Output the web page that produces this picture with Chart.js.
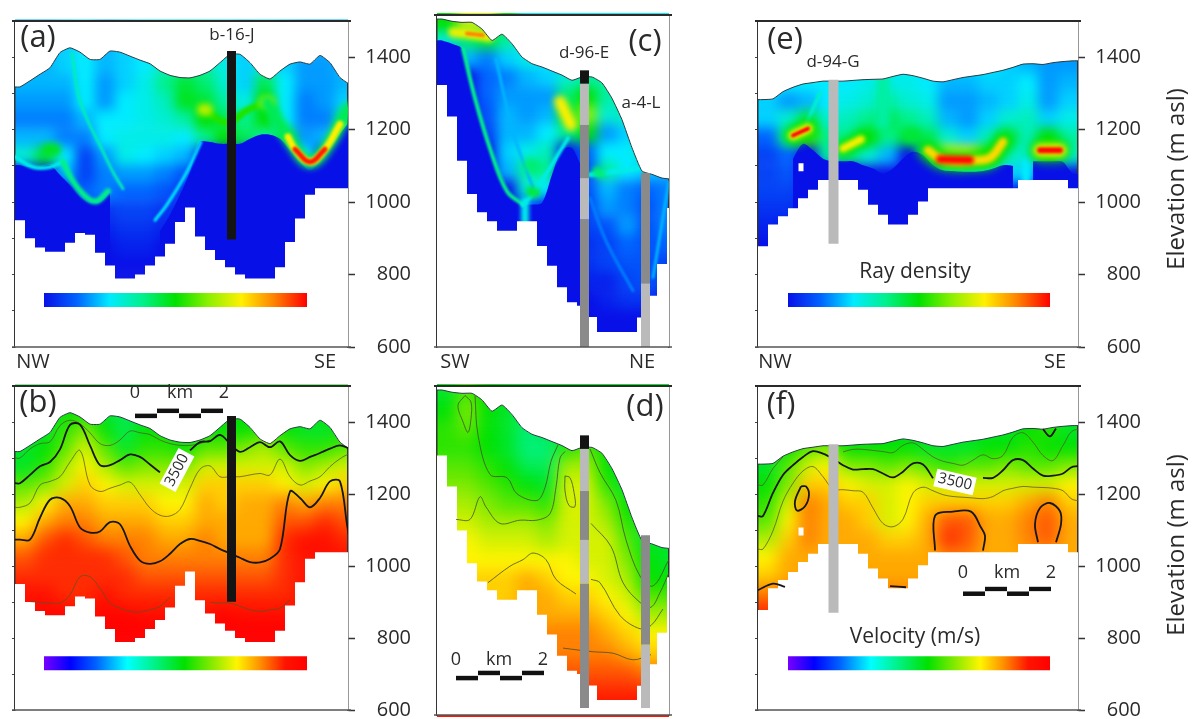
<!DOCTYPE html>
<html>
<head>
<meta charset="utf-8">
<style>
html,body{margin:0;padding:0;background:#fff;width:1193px;height:719px;overflow:hidden}
.clip{position:absolute;overflow:hidden;background:#fff}
canvas{position:absolute}
</style>
<script src="https://cdn.jsdelivr.net/npm/chart.js@4"></script>
</head>
<body>
<script>
// colour scales
var densityStops = [0, 50, 100, 150, 200, 250, 300, 350, 400];
var densityRgb = [[8,16,232],[0,100,255],[0,235,255],[0,240,140],[0,225,0],[140,240,0],[255,240,0],[255,130,0],[255,0,0]];
var velocityStops = [1500, 1800, 2100, 2450, 2800, 3100, 3450, 3700, 3950, 4250, 4500];
var velocityRgb = [[120,0,255],[0,0,255],[0,100,255],[0,255,255],[0,240,120],[0,225,0],[150,235,0],[255,245,0],[255,150,0],[255,20,0],[255,0,0]];
var densityTicks = [0, 100, 200, 300, 400];
var velocityTicks = [1500, 2000, 2500, 3000, 3500, 4000, 4500];
var velocityTickLabels = [1500, 2500, 3500, 4500];

// surface, mesh floor and fully blue zone, elevation per 10 px column
var topoAB = [1318,1335,1353,1371,1413,1426,1414,1394,1394,1417,1414,1403,1392,1382,1362,1350,1344,1343,1350,1362,1385,1408,1408,1385,1353,1340,1362,1381,1387,1381,1405,1385,1344,1325];
var floorAB = [950,900,875,863,863,888,915,910,860,825,789,789,800,825,850,885,945,985,905,868,840,820,800,789,789,789,820,890,955,1020,1038,1038,1038,1038];
var deepA = [1102,1096,1096,1102,1075,1047,1015,997,999,1025,null,null,null,null,920,965,1020,1084,1166,1166,1161,1161,1161,1175,1186,1186,1175,1143,1111,1088,1111,1148,1189,1221];
var topoCD = [1339,1333,1330,1330,1312,1281,1298,1272,1236,1218,1209,1198,1187,1173,1182,1182,1166,1124,1066,990,927,918,908,905];
var floorCD = [1160,1075,955,865,815,791,765,765,791,791,724,670,612,571,562,531,491,491,491,491,530,589,675,827];
var deepC = [1281,1272,1258,1150,1060,962,908,859,836,836,841,917,985,989,935,null,null,null,null,null,null,null,null,null];
var topoEF = [1283,1285,1305,1317,1326,1330,1334,1334,1334,1336,1338,1339,1340,1347,1353,1349,1342,1334,1332,1338,1344,1348,1352,1358,1364,1372,1381,1382,1380,1385,1388,1390];
var floorEF = [878,938,961,983,1011,1034,1061,1061,1061,1061,1034,993,965,938,938,965,1002,1038,1038,1038,1038,1038,1038,1038,1038,1038,1061,1061,1061,1061,1061,1038];
var deepE = [null,null,null,1120,1161,1143,1120,1113,1113,1113,1102,1093,1079,1093,1120,1139,1130,1102,1088,1086,1084,1084,1086,1093,1102,1100,null,1113,1113,1113,1111,1079];

// ray density /10, rows every 50 m going down, columns every 20 px
var gridA = [
[8,8,9,10,8,9,10,11,12,12,10,9,10,9,8,8,8],
[8,8,9,10,8,9,10,13,14,14,11,9,12,9,7,7,8],
[8,8,8,10,7,9,11,15,18,16,12,9,17,10,7,7,8],
[7,7,7,10,7,10,11,13,19,18,14,11,20,10,6,7,9],
[6,6,6,8,10,10,11,12,14,20,17,15,20,10,6,6,14],
[8,8,6,6,10,11,11,11,10,15,20,17,14,18,7,8,25],
[12,18,10,3,7,11,10,9,8,0,0,0,0,0,10,0,0],
[0,0,8,3,6,7,7,6,4,0,0,0,0,0,0,0,0],
[0,0,0,5,6,5,5,4,2,0,0,0,0,0,0,0,0],
[0,0,0,0,2,3,3,2,1,0,0,0,0,0,0,0,0],
[0,0,0,0,1,2,2,1,0,0,0,0,0,0,0,0,0],
[0,0,0,0,0,1,1,0,0,0,0,0,0,0,0,0,0],
[0,0,0,0,0,0,0,0,0,0,0,0,0,0,0,0,0],
[0,0,0,0,0,0,0,0,0,0,0,0,0,0,0,0,0]];
var gridC = [
[20,28,28,20,10,10,10,10,10,10,10,10],
[12,16,18,14,10,10,10,10,10,10,10,10],
[0,8,6,9,11,10,9,9,9,9,9,9],
[0,0,5,6,8,9,12,14,14,10,10,10],
[0,0,5,7,7,7,16,20,14,13,10,10],
[0,0,4,8,7,8,18,25,12,13,10,10],
[0,0,3,8,8,10,15,20,7,9,14,10],
[0,0,0,9,11,13,0,5,10,10,14,10],
[0,0,0,8,14,15,0,4,14,10,9,8],
[0,0,0,0,12,10,0,4,8,6,5,6],
[0,0,0,0,5,1,1,3,7,6,4,6],
[0,0,0,0,0,0,2,3,4,7,4,6],
[0,0,0,0,0,0,2,2,3,5,4,5],
[0,0,0,0,0,0,1,2,3,4,4,3],
[0,0,0,0,0,0,0,1,1,3,4,3],
[0,0,0,0,0,0,0,0,1,2,2,0],
[0,0,0,0,0,0,0,0,0,0,0,0],
[0,0,0,0,0,0,0,0,0,0,0,0]];
var gridE = [
[10,10,10,10,10,10,10,10,10,10,10,10,9,8,7,7],
[10,10,10,10,10,11,11,11,10,8,8,9,9,10,7,8],
[9,7,8,10,11,12,14,12,11,7,7,8,9,11,7,9],
[9,12,17,12,13,15,17,15,13,8,7,9,12,13,9,11],
[5,14,22,15,15,20,15,18,17,12,9,13,18,13,20,14],
[3,5,0,14,16,12,8,0,15,30,30,22,13,12,20,12],
[3,4,0,0,0,0,0,0,0,12,12,11,9,9,0,0],
[3,3,1,0,0,0,0,0,0,0,0,0,0,0,0,0],
[2,2,0,0,0,0,0,0,0,0,0,0,0,0,0,0],
[1,0,0,0,0,0,0,0,0,0,0,0,0,0,0,0],
[0,0,0,0,0,0,0,0,0,0,0,0,0,0,0,0],
[0,0,0,0,0,0,0,0,0,0,0,0,0,0,0,0]];

// velocity /100 m/s, same layout
var gridB = [
[30,30,31,31,30,29,30,30,30,30,31,31,31,31,31,31,31],
[30,30,32,34,31,29,31,31,30,31,31,31,32,31,30,30,31],
[30,31,33,36,33,30,32,32,31,33,33,34,35,33,32,32,33],
[30,32,35,37,35,33,34,34,34,36,36,36,36,36,34,35,36],
[33,34,36,38,37,36,36,36,36,38,38,38,38,37,36,37,38],
[35,37,39,39,38,38,38,37,37,39,38,39,39,40,39,40,40],
[37,39,40,40,39,39,39,38,38,39,39,39,39,41,41,42,41],
[39,41,42,41,40,40,40,39,39,40,39,39,39,42,43,43,42],
[41,42,42,42,42,41,40,40,40,40,40,40,40,42,43,43,43],
[42,42,42,42,42,42,41,41,41,41,41,41,41,42,43,43,43],
[43,43,42,42,43,42,42,42,42,42,42,42,42,42,43,43,43],
[43,44,44,43,44,44,43,43,43,43,44,43,43,43,43,43,43],
[45,45,45,45,45,45,45,45,45,45,45,45,45,45,45,45,45],
[45,45,45,45,45,45,45,45,45,45,45,45,45,45,45,45,45]];
var gridD = [
[30,33,31,30,30,30,30,30,30,30,30,30],
[31,34,31,30,29,30,30,30,30,30,30,30],
[32,33,31,30,28,29,30,30,30,30,30,30],
[32,32,31,30,28,28,32,33,31,30,30,30],
[33,33,32,31,29,29,35,35,31,30,30,30],
[34,34,33,32,31,30,36,36,32,30,30,30],
[35,35,34,33,33,32,36,36,34,31,30,30],
[36,36,35,35,35,34,36,36,35,32,30,30],
[36,37,36,36,36,35,36,36,36,33,30,30],
[37,37,37,37,37,37,37,36,36,34,31,30],
[37,38,38,38,39,38,37,37,36,35,31,31],
[38,38,38,38,39,39,38,38,37,36,33,33],
[38,38,38,39,39,39,39,39,38,37,35,35],
[38,39,39,39,40,40,40,40,39,38,37,37],
[39,39,39,40,40,40,40,40,40,39,38,38],
[40,40,40,41,41,41,41,41,41,41,40,40],
[42,42,42,42,42,42,42,42,42,42,42,42],
[43,43,43,43,43,43,43,43,43,43,43,43]];
var gridF = [
[30,30,30,30,30,30,30,30,30,30,30,30,30,31,32,30],
[30,31,33,34,31,31,31,31,30,30,30,31,31,32,31,31],
[30,33,36,37,34,34,33,34,33,32,33,33,34,33,33,34],
[31,34,38,38,37,36,36,37,36,36,36,36,36,36,36,37],
[32,36,40,39,38,38,36,37,38,38,38,38,38,39,40,38],
[33,37,40,39,39,38,36,37,39,41,41,39,39,40,41,39],
[35,38,40,39,39,39,38,38,39,42,41,39,39,40,41,39],
[37,39,39,39,39,39,39,39,39,40,40,39,39,39,39,39],
[38,39,39,39,39,39,39,39,39,39,39,39,39,39,39,39],
[40,40,40,40,40,40,40,40,40,40,40,40,40,40,40,40],
[42,42,42,42,42,42,42,42,42,42,42,42,42,42,42,42],
[42,42,42,42,42,42,42,42,42,42,42,42,42,42,42,42]];

// dense ray paths, [column, elevation]
var rayA1 = [[5.7,1410],[6.3,1300],[7.2,1230],[8.5,1157],[9.8,1083],[10.8,1037]];
var rayA2 = [[4.8,1112],[5.8,1057],[7.2,1012],[8.2,1003],[9.3,1030]];
var rayA3 = [[25.2,1276],[27.5,1171],[29.5,1111],[31.5,1166],[33.3,1258]];
var rayA4 = [[27.3,1180],[28,1146],[29.5,1111],[31,1146],[32.5,1215]];
var rayA5 = [[28,1146],[29.5,1111],[31,1146]];
var rayA6 = [[18.8,1257],[21.2,1220],[23.2,1253],[25.2,1276]];
var rayA7 = [[18.8,1255],[19.2,1255]];
var rayA8 = [[25,1276],[25.4,1276]];
var rayA9 = [[3.3,1145],[4,1145]];
var rayA10 = [[18.6,1166],[17.2,1084],[15.2,993],[14,950]];
var rayA11 = [[0,1125],[1.8,1097],[3.5,1097],[4.8,1112]];
var rayC1 = [[2.6,1258],[3.9,1114],[5.3,988],[7,872],[8.6,836]];
var rayC2 = [[1.6,1303],[3,1300],[5.2,1290]];
var rayC3 = [[3,1300],[4.6,1295]];
var rayC4 = [[12.3,1115],[13.4,1052]];
var rayC5 = [[8.6,836],[9.8,872],[13.1,1016]];
var rayC6 = [[9.4,872],[9.8,868]];
var rayC7 = [[8.8,845],[8.8,790]];
var rayC8 = [[5.9,1231],[7.6,1034],[9.6,881]];
var rayC9 = [[9.3,944],[9.7,940]];
var rayC10 = [[16,925],[16.4,920]];
var rayC11 = [[15.3,854],[16.9,738],[19.6,603]];
var rayC12 = [[23.2,899],[21.6,639]];
var rayC13 = [[15.3,917],[20.3,935]];
var rayE1 = [[3.5,1184],[5,1203]];
var rayE2 = [[8.5,1148],[10.3,1173]];
var rayE3 = [[17,1143],[18.2,1120],[19.8,1113],[21.5,1115],[23.2,1122],[24.5,1166]];
var rayE4 = [[18.2,1118],[21.2,1116]];
var rayE5 = [[28.2,1143],[30.2,1143]];
var rayE6 = [[12.5,1340],[12.5,1220]];
var rayE7 = [[15.2,1184],[15.6,1184]];
var rayE8 = [[26.8,1111],[26.8,1061]];
var rayE9 = [[6.2,1300],[4.7,1208]];

// velocity contours, per column or [column, elevation]
var lineB3250 = [1300,1325,1340,1345,1390,1405,1395,1370,1340,1335,1350,1375,1370,1365,1350,1340,1335,1335,1340,1350,null,null,null,null,null,null,null,null,null,null,null,null,null,null];
var lineB3500 = [1230,1253,1277,1289,1324,1392,1393,1335,1280,1280,1294,1310,1303,1282,1260,null,null,1321,1344,1347,1364,1340,1317,1330,1344,1330,1346,1308,1292,1303,1314,1326,1335,1326];
var lineB3750 = [1163,1175,1225,1235,1248,1289,1321,1225,1207,1216,1225,1233,1198,1161,1141,1139,1157,1216,1269,1278,1248,1248,1248,1253,1257,1253,1297,1248,1225,1236,1248,1276,1298,1312];
var lineB4000 = [1073,1073,1134,1184,1189,1166,1107,1093,1096,1122,1116,1056,1015,1006,1013,1034,1061,1075,1070,1061,1047,1035,1023,1011,1010,1020,1047,1207,1189,1163,1189,1235,1235,1075];
var lineB4250 = [null,901,899,897,897,920,970,970,938,897,883,874,872,878,888,913,null,null,null,899,897,897,888,878,874,878,883,906,null,null,null,null,null,null];
var lineD1 = [[3.8,1324],[4.1,1216],[5.3,1108],[7,1099],[8,1055],[10,1037],[10.8,1072],[11.4,1144],[12.1,1189]];
var lineD2 = [[15.3,1178],[16.3,1113],[17.9,1037],[18.9,929],[20.3,830],[21.6,803],[23.2,875]];
var lineD3 = [[1.9,985],[3.3,985],[4.3,1047],[4.9,1019],[6.3,974],[8.3,983],[10,983],[11.3,1001],[11.9,1073],[12.3,1153],[12.8,1171]];
var lineD4 = [[15.4,974],[17.4,911],[18.6,812],[20.3,758],[21.4,745],[22.3,785],[23.2,839]];
var lineD5 = [[5.1,812],[7.3,857],[8.6,875],[9.6,893],[10.9,875],[11.9,821],[13.9,781]];
var lineD6 = [[15.4,821],[16.3,812],[18.3,722],[20.3,686],[21.4,695],[22.6,740]];
var lineD7 = [[12.6,633],[15.6,623],[17.6,619],[19.6,601],[21.4,615]];
var lineD8 = [[2.8,1324],[2.1,1297],[2.6,1252],[3.1,1223],[3.4,1261],[3.4,1306],[2.8,1324]];
var lineD9 = [[12.8,1104],[12.8,1063],[13.2,1023],[13.8,1020],[13.7,1059],[13.3,1099],[12.8,1104]];
var lineF3250 = [1225,1271,1303,null,null,null,null,null,1317,1324,1324,1321,1318,1315,1335,1342,1324,1303,1291,1285,1280,1294,1309,1298,1307,1358,1370,1344,1307,1293,1335,1376];
var lineF3500 = [1139,1203,1253,1280,1303,1319,1312,1298,1280,1268,1269,1269,1257,1246,1262,1285,1282,1244,null,null,null,null,1245,1245,1266,1294,1294,1271,1251,1251,1257,1276];
var lineF3750 = [1047,1098,1180,1230,1264,1276,1248,1213,1212,1209,1205,1161,1118,1109,1130,1203,1219,1209,1198,1193,1191,1189,1187,1193,1209,1216,1221,1219,1218,1216,1209,1184];
var loopF1 = [[4.3,1221],[3.7,1180],[3.9,1154],[4.7,1166],[5.1,1198],[4.8,1221],[4.3,1221]];
var loopF2 = [[17.7,1043],[17.7,1139],[19.5,1151],[21.3,1151],[22.3,1107],[22.7,1084],[22.5,1043]];
var loopF3 = [[28,1066],[27.7,1116],[28.2,1161],[29.2,1175],[30.2,1152],[30.3,1116],[29.8,1066]];
var loopF4 = [[0,933],[1.5,951],[2.7,942]];
var loopF5 = [[13.2,944],[14.8,941]];
var loopF6 = [[28.5,1380],[29.2,1360],[29.8,1382]];
var holeEF = [[4.3,1107],[4.3,1085]];

// boreholes: [from, to, tone]
var wellTones = ['#141414', '#bababa', '#8a8a8a'];
var wellA = [[897,1417,0]];
var wellB = [[901,1417,0]];
var wellC1 = [[450,796,2],[796,908,1],[908,1052,2],[1052,1164,1],[1164,1200,0]];
var wellC2 = [[450,623,1],[623,922,2]];
var wellD1 = [[469,810,2],[810,929,1],[929,1063,2],[1063,1178,1],[1178,1215,0]];
var wellD2 = [[469,643,1],[643,942,2]];
var wellE = [[885,1338,1]];
var wellF = [[870,1338,1]];
var scaleKm = [0, 0.5, 1, 1.5, 2];

var panels = [
  {L:15, R:348, T:19, B:347, min:600, max:1500, kind:'d', grid:gridA, gridTop:1450, topo:topoAB, floor:floorAB, deep:deepA, bar:[44,307], minor:false,
   rays:[[rayA11,11,4],[rayA1,13,3],[rayA10,10,3],[rayA2,15,6],[rayA9,19,12],[rayA6,21,7],[rayA7,27,12],[rayA8,27,12],[rayA3,17,13],[rayA4,30,7],[rayA5,39,5]],
   wells:[[21.65,9,wellA]],
   text:[['(a)',38,38,31],['b-16-J',232,35,17]]},
  {L:15, R:348, T:384, B:712, min:600, max:1500, kind:'v', grid:gridB, gridTop:1450, topo:topoAB, floor:floorAB, bar:[44,307], minor:false,
   lines:[[lineB3250,0],[lineB3750,0],[lineB4250,0],[lineB3500,1],[lineB4000,1]], wells:[[21.65,9,wellB]], scale:[12,1431,1417],
   text:[['(b)',38,403,31],['0',135,393,18],['km',180,393,18],['2',224,393,18],['3500',177,470,15,-62,1]]},
  {L:437, R:669, T:13, B:347, min:450, max:1350, kind:'d', grid:gridC, gridTop:1350, topo:topoCD, floor:floorCD, deep:deepC, minor:true,
   rays:[[rayC8,8,3],[rayC11,6,3],[rayC12,8,3],[rayC13,11,5],[rayC1,15,4],[rayC5,11,4],[rayC7,11,8],[rayC6,18,10],[rayC9,16,14],[rayC10,16,10],[rayC2,29,10],[rayC3,35,4],[rayC4,30,12]],
   wells:[[14.75,9,wellC1],[20.85,9,wellC2]],
   text:[['(c)',645,42,31],['d-96-E',584,53,17],['a-4-L',641,103,17]]},
  {L:437, R:669, T:384, B:717, min:450, max:1350, kind:'v', grid:gridD, gridTop:1350, topo:topoCD, floor:floorCD, minor:true,
   pairs:[lineD1,lineD2,lineD3,lineD4,lineD5,lineD6,lineD7,lineD8,lineD9], wells:[[14.75,9,wellD1],[20.85,9,wellD2]], scale:[1.9,565,551],
   text:[['(d)',645,407,31],['0',456,660,18],['km',499,660,18],['2',543,660,18]]},
  {L:758, R:1078, T:19, B:347, min:600, max:1500, kind:'d', grid:gridE, gridTop:1400, topo:topoEF, floor:floorEF, deep:deepE, bar:[788,1050], minor:false,
   rays:[[rayE9,12,4],[rayE6,14,14],[rayE7,18,14],[rayE8,10,8],[rayE1,20,20],[rayE1,30,10],[rayE1,40,4],[rayE2,20,16],[rayE2,30,8],[rayE3,20,20],[rayE3,31,9],[rayE4,40,8],[rayE5,20,22],[rayE5,30,13],[rayE5,40,6]],
   wells:[[7.55,10,wellE]], hole:holeEF,
   text:[['(e)',785,40,31],['d-94-G',833,62,17],['Ray density',915,272,21],['Elevation (m asl)',1177,179,24,-90]]},
  {L:758, R:1078, T:384, B:712, min:600, max:1500, kind:'v', grid:gridF, gridTop:1400, topo:topoEF, floor:floorEF, bar:[788,1050], minor:false,
   lines:[[lineF3250,0],[lineF3750,0],[lineF3500,1]], pairs:[], loops:[loopF1,loopF2,loopF3,loopF4,loopF5,loopF6], wells:[[7.55,10,wellF]], hole:holeEF, scale:[20.5,936,923],
   text:[['(f)',781,405,31],['0',963,573,18],['km',1007,573,18],['2',1051,573,18],['3500',955,482,15,13,1],['Velocity (m/s)',915,637,21],['Elevation (m asl)',1177,545,24,-90]]}
];
var sideLabels = [['NW',33,362],['SE',325,362],['SW',455,362],['NE',642,362],['NW',775,362],['SE',1055,362]];

var fontName = '"Open Sans", sans-serif';

function colourAt(v, stops, rgb) {
  if (v <= stops[0]) return 'rgb(' + rgb[0].join(',') + ')';
  for (var i = 1; i < stops.length; i++) {
    if (v <= stops[i]) {
      var t = (v - stops[i-1]) / (stops[i] - stops[i-1]);
      var c = rgb[i].map(function (x, k) { return Math.round(rgb[i-1][k] + (x - rgb[i-1][k]) * t); });
      return 'rgb(' + c.join(',') + ')';
    }
  }
  return 'rgb(' + rgb[rgb.length-1].join(',') + ')';
}
function densColour(v) { return colourAt(v * 10, densityStops, densityRgb); }
function velColour(v) { return colourAt(v * 100, velocityStops, velocityRgb); }

// column array -> points, edges held out to the frame
function colPts(arr, n) {
  var pts = arr.map(function (y, i) { return {x: i + 0.5, y: y}; });
  pts.unshift({x: 0, y: arr[0]});
  pts.push({x: n + 1, y: arr[arr.length-1]});
  return pts;
}
function pairPts(arr) { return arr.map(function (p) { return {x: p[0], y: p[1]}; }); }

function drawHeat(p) {
  var w = p.R - p.L, h = p.B - p.T, pxm = h / (p.max - p.min), rowH = 50 * pxm;
  var box = document.createElement('div');
  box.className = 'clip';
  box.style.cssText = 'left:' + p.L + 'px;top:' + p.T + 'px;width:' + w + 'px;height:' + h + 'px';
  document.body.appendChild(box);
  var rows = [p.grid[0]].concat(p.grid, [p.grid[p.grid.length-1]]).map(function (r) {
    return [r[0]].concat(r, [r[r.length-1]]);
  });
  var cv = document.createElement('canvas');
  cv.width = rows[0].length * 20;
  cv.height = Math.round(rows.length * rowH);
  cv.style.left = '-20px';
  cv.style.top = Math.round((p.max - p.gridTop) * pxm - rowH) + 'px';
  cv.style.filter = p.kind == 'd' ? 'blur(6px)' : 'blur(8px)';
  box.appendChild(cv);
  var top = p.gridTop + 50;
  var paint = p.kind == 'd' ? densColour : velColour;
  new Chart(cv, {
    type: 'bar',
    data: {
      labels: rows[0].map(function (_, i) { return i; }),
      datasets: rows.map(function (r, j) {
        var hi = top - 50 * j;
        return {
          data: r.map(function () { return [hi - 50, hi]; }),
          backgroundColor: r.map(paint), borderColor: r.map(paint), borderWidth: 1,
          grouped: false, barPercentage: 1, categoryPercentage: 1
        };
      })
    },
    options: {
      responsive: false, animation: false, events: [],
      layout: {padding: 0},
      plugins: {legend: {display: false}, tooltip: {enabled: false}},
      scales: {
        x: {display: false},
        y: {display: false, min: top - 50 * rows.length, max: top}
      }
    }
  });
}

function drawOverlay(p, idx) {
  var w = p.R - p.L, h = p.B - p.T, n = w / 10;
  var padL = 6, widthR = 63, extraR = idx >= 4 ? 50 : 10, padT = 14, padB = idx % 2 == 0 ? 30 : 14;
  var cv = document.createElement('canvas');
  cv.width = padL + w + widthR + extraR;
  cv.height = padT + h + padB;
  var offX = p.L - padL, offY = p.T - padT;
  cv.style.left = offX + 'px';
  cv.style.top = offY + 'px';
  document.body.appendChild(cv);

  var sets = [];
  function add(ds) { ds.xAxisID = ds.xAxisID || 'x'; ds.yAxisID = 'y'; sets.push(ds); }

  if (p.deep) add({data: colPts(p.deep, n), borderWidth: 0, fill: 'start', backgroundColor: densColour(0), tension: 0.3});
  (p.rays || []).forEach(function (r) {
    add({data: pairPts(r[0]), borderColor: densColour(r[1]), borderWidth: r[2], tension: 0.4, borderCapStyle: 'round', blurPx: Math.max(1, r[2] / 4)});
  });
  add({data: colPts(p.topo, n), borderWidth: 0, fill: 'end', backgroundColor: '#fff', tension: 0.15});
  add({data: colPts(p.floor, n), borderWidth: 0, fill: 'start', backgroundColor: '#fff', stepped: 'middle'});
  add({data: colPts(p.topo, n), borderColor: '#2c3a44', borderWidth: 1, tension: 0.15});
  if (p.hole) add({data: pairPts(p.hole), borderColor: '#fff', borderWidth: 5});

  (p.lines || []).forEach(function (l) {
    add({data: colPts(l[0], n), borderColor: l[1] ? '#161616' : 'rgba(85,85,40,.75)', borderWidth: l[1] ? 1.8 : 1, tension: 0.35});
  });
  (p.pairs || []).forEach(function (l) {
    add({data: pairPts(l), borderColor: 'rgba(70,80,40,.8)', borderWidth: 1, tension: 0.35});
  });
  (p.loops || []).forEach(function (l) {
    add({data: pairPts(l), borderColor: '#161616', borderWidth: 1.8, tension: 0.35});
  });

  p.wells.forEach(function (well) {
    well[2].forEach(function (s) {
      add({data: [{x: well[0], y: s[0]}, {x: well[0], y: s[1]}], borderColor: wellTones[s[2]], borderWidth: well[1], borderCapStyle: 'butt'});
    });
  });

  if (p.scale) {
    var uKm = 4.4;
    scaleKm.slice(0, 4).forEach(function (km, i) {
      var x0 = p.scale[0] + km * uKm, x1 = p.scale[0] + scaleKm[i+1] * uKm;
      add({data: [{x: x0, y: p.scale[1]}, {x: x1, y: p.scale[1]}], borderColor: i % 2 ? '#111' : '#fff', borderWidth: 4.5, borderCapStyle: 'butt'});
      add({data: [{x: x0, y: p.scale[2]}, {x: x1, y: p.scale[2]}], borderColor: i % 2 ? '#fff' : '#111', borderWidth: 4.5, borderCapStyle: 'butt'});
    });
  }

  var scales = {
    x: {type: 'linear', display: false, min: 0, max: n},
    y: {
      type: 'linear', position: 'right', min: p.min, max: p.max,
      afterFit: function (s) { s.width = widthR; },
      border: {color: '#333', width: 1.5},
      grid: {
        drawOnChartArea: false, tickLength: 7, tickWidth: 1.5,
        tickColor: function (c) {
          var v = c.tick.value;
          if (v % 100) return 'transparent';
          return v % 200 == 0 || p.minor ? '#333' : 'transparent';
        }
      },
      ticks: {
        stepSize: 100, autoSkip: false, maxRotation: 0, crossAlign: 'far', padding: 4,
        color: '#2a2a2a', font: {family: fontName, size: 20},
        callback: function (v) { return v % 200 == 0 && v <= 1400 ? String(v) : ''; }
      }
    },
    yL: {
      type: 'linear', position: 'left', min: p.min, max: p.max,
      afterFit: function (s) { s.width = padL; },
      border: {color: '#333', width: 1.5},
      grid: {
        drawOnChartArea: false, tickLength: 3, tickWidth: 1,
        tickColor: function (c) { return c.tick.value % 100 ? 'transparent' : '#444'; }
      },
      ticks: {stepSize: 100, display: false}
    }
  };

  if (p.bar) {
    var stops = p.kind == 'd' ? densityStops : velocityStops;
    var rgb = p.kind == 'd' ? densityRgb : velocityRgb;
    var tickVals = p.kind == 'd' ? densityTicks : velocityTicks;
    var v0 = stops[0], v1 = stops[stops.length-1], perPx = (v1 - v0) / (p.bar[1] - p.bar[0]);
    scales.cb = {
      type: 'linear', axis: 'x', position: {y: 710},
      min: v0 - (p.bar[0] - p.L) * perPx, max: v1 + (p.R - p.bar[1]) * perPx,
      afterBuildTicks: function (s) { s.ticks = tickVals.map(function (v) { return {value: v}; }); },
      border: {display: false},
      grid: {drawOnChartArea: false, tickLength: 7, tickColor: '#333', tickWidth: 1},
      ticks: {
        autoSkip: false, maxRotation: 0, padding: 4, color: '#2a2a2a', font: {family: fontName, size: 16},
        callback: function (v) {
          if (p.kind == 'v' && velocityTickLabels.indexOf(v) < 0) return '';
          return String(v);
        }
      }
    };
    var grad = cv.getContext('2d').createLinearGradient(p.bar[0] - offX, 0, p.bar[1] - offX, 0);
    stops.forEach(function (s, i) { grad.addColorStop((s - v0) / (v1 - v0), 'rgb(' + rgb[i].join(',') + ')'); });
    add({xAxisID: 'cb', data: [{x: v0, y: 730}, {x: v1, y: 730}], borderWidth: 14, borderCapStyle: 'butt', borderColor: grad});
  }

  // first dataset has to be painted first
  sets.forEach(function (s, i) { s.order = sets.length - i; });

  var extras = {
    id: 'extras',
    beforeDatasetDraw: function (chart, args) {
      var b = chart.data.datasets[args.index].blurPx;
      if (b) { chart.ctx.save(); chart.ctx.filter = 'blur(' + b + 'px)'; }
    },
    afterDatasetDraw: function (chart, args) {
      if (chart.data.datasets[args.index].blurPx) chart.ctx.restore();
    },
    afterDraw: function (chart) {
      var ctx = chart.ctx, a = chart.chartArea;
      ctx.save();
      ctx.strokeStyle = '#2a2a2a';
      ctx.lineWidth = 2;
      ctx.beginPath(); ctx.moveTo(a.left - 3, a.top); ctx.lineTo(a.right + 3, a.top); ctx.stroke();
      ctx.lineWidth = 1.5;
      ctx.strokeStyle = '#555';
      ctx.beginPath(); ctx.moveTo(a.left - 3, a.bottom); ctx.lineTo(a.right + 3, a.bottom); ctx.stroke();
      var items = p.text.slice();
      if (idx % 2 == 0) sideLabels.slice(idx, idx + 2).forEach(function (t) { items.push([t[0], t[1], t[2], 20]); });
      items.forEach(function (t) {
        ctx.save();
        ctx.translate(t[1] - offX, t[2] - offY);
        if (t[4]) ctx.rotate(t[4] * Math.PI / 180);
        ctx.font = t[3] + 'px ' + fontName;
        ctx.textAlign = 'center';
        ctx.textBaseline = 'middle';
        if (t[5]) {
          var tw = ctx.measureText(t[0]).width + 6;
          ctx.fillStyle = '#fff';
          ctx.fillRect(-tw / 2, -t[3] * 0.6, tw, t[3] * 1.2);
        }
        ctx.fillStyle = '#2a2a2a';
        ctx.fillText(t[0], 0, 0);
        ctx.restore();
      });
      ctx.restore();
    }
  };

  new Chart(cv, {
    type: 'line',
    data: {datasets: sets},
    plugins: [extras],
    options: {
      responsive: false, animation: false, events: [],
      layout: {padding: {top: padT, bottom: padB, left: 0, right: extraR}},
      elements: {point: {radius: 0}},
      plugins: {legend: {display: false}, tooltip: {enabled: false}},
      scales: scales
    }
  });
}

panels.forEach(drawHeat);
panels.forEach(drawOverlay);
</script>
</body>
</html>
